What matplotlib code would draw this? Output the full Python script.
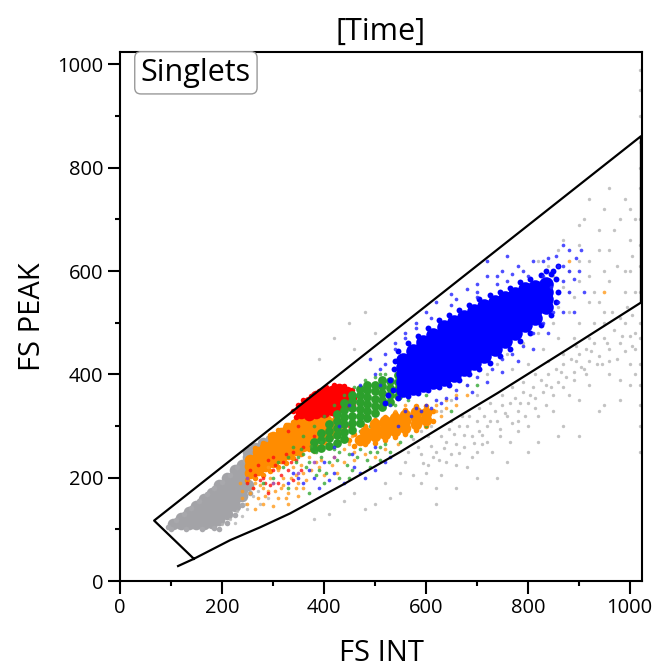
import matplotlib
matplotlib.use("Agg")
import matplotlib.pyplot as plt
from matplotlib.ticker import MultipleLocator

plt.rcParams['font.family'] = ['Open Sans', 'DejaVu Sans']

# ---- data (FS INT, FS PEAK) ----
gate_x = [114, 145, 216, 275, 334, 440, 550, 645, 741, 880, 1022, 1022, 67, 145]
gate_y = [29, 43, 79, 104, 131, 188, 250, 307, 364, 450, 539, 861, 117, 43]

gray_core = [
    (105, 110), (120, 110), (120, 122), (135, 110), (135, 122), (135, 134),
    (150, 110), (150, 122), (150, 134), (150, 146),
    (165, 110), (165, 122), (165, 134), (165, 146), (165, 158),
    (180, 112), (180, 124), (180, 136), (180, 148), (180, 160), (180, 170),
    (195, 118), (195, 130), (195, 142), (195, 154), (195, 166), (195, 178), (195, 186),
    (210, 130), (210, 142), (210, 154), (210, 166), (210, 178), (210, 190), (210, 200),
    (225, 146), (225, 158), (225, 170), (225, 182), (225, 194), (225, 206), (225, 214),
    (240, 165), (240, 177), (240, 189), (240, 201), (240, 213), (240, 225),
    (252, 185), (252, 240), (252, 250), (265, 258), (280, 268),
]
gray_mid = [
    (95, 105), (110, 118), (125, 130), (140, 142), (155, 155), (170, 168),
    (185, 180), (200, 192), (215, 206), (230, 220), (245, 235), (195, 100),
    (210, 112), (225, 128), (240, 148), (255, 170), (100, 100), (130, 100),
    (160, 100), (185, 103), (290, 276), (300, 282),
]

orange_core = [
    (255, 210), (255, 222), (255, 234),
    (270, 215), (270, 228), (270, 240), (270, 250),
    (285, 222), (285, 235), (285, 248), (285, 260),
    (300, 230), (300, 243), (300, 256), (300, 268), (300, 278),
    (315, 238), (315, 251), (315, 264), (315, 277), (315, 287),
    (330, 246), (330, 259), (330, 272), (330, 285), (330, 296),
    (345, 254), (345, 267), (345, 280), (345, 293), (345, 303),
    (360, 262), (360, 275), (360, 288), (360, 300), (360, 310),
    (375, 270), (375, 283), (375, 296), (375, 308),
    (390, 278), (390, 291), (390, 304), (390, 315),
    (405, 286), (405, 299), (405, 311), (420, 294), (420, 306),
]
orange_lobe = [
    (470, 272), (480, 275), (480, 288),
    (500, 280), (500, 292), (500, 303),
    (520, 285), (520, 297), (520, 309),
    (540, 291), (540, 303), (540, 315),
    (560, 297), (560, 309), (560, 321),
    (580, 303), (580, 316), (580, 328), (600, 312), (600, 325),
]
orange_mid = [
    (250, 195), (265, 200), (280, 205), (295, 212), (310, 220), (325, 228),
    (340, 238), (355, 246), (370, 255), (385, 262), (400, 270), (415, 280),
    (430, 288), (265, 258), (280, 268), (295, 282), (310, 292), (325, 302),
    (340, 308), (430, 300), (440, 295), (435, 312),
    (460, 262), (480, 265), (500, 268), (520, 272), (540, 278), (560, 285),
    (580, 292), (600, 300), (615, 310), (480, 300), (500, 312), (520, 318),
    (540, 325), (560, 332), (580, 338), (600, 338), (615, 330), (450, 272),
    (460, 285),
]

red_core = [
    (355, 325), (355, 335), (370, 322), (370, 334), (370, 346),
    (385, 325), (385, 337), (385, 349), (385, 358),
    (400, 328), (400, 340), (400, 352), (400, 364),
    (415, 332), (415, 344), (415, 356), (415, 367),
    (430, 336), (430, 348), (430, 360), (430, 372),
    (445, 342), (445, 354), (445, 365),
]
red_mid = [
    (345, 318), (350, 340), (360, 350), (375, 358), (390, 368), (405, 375),
    (420, 380), (440, 378), (455, 370), (460, 355), (455, 340), (340, 330),
]

green_core = [
    (380, 255), (380, 270), (395, 258), (395, 272), (395, 286),
    (410, 262), (410, 276), (410, 290), (410, 304),
    (425, 268), (425, 282), (425, 296), (425, 310), (425, 324),
    (440, 275), (440, 289), (440, 303), (440, 317), (440, 331), (440, 345),
    (455, 292), (455, 306), (455, 320), (455, 334), (455, 348), (455, 360),
    (470, 305), (470, 319), (470, 333), (470, 347), (470, 361), (470, 372),
    (485, 315), (485, 329), (485, 343), (485, 357), (485, 370), (485, 380),
    (500, 325), (500, 339), (500, 353), (500, 367), (500, 380),
    (515, 336), (515, 350), (515, 364), (515, 378), (515, 390),
    (530, 346), (530, 360), (530, 374), (530, 388),
    (545, 358), (545, 372), (545, 386), (545, 398),
]

blue_core = [
    (555, 370), (555, 385), (555, 400), (555, 415), (555, 428),
    (575, 374), (575, 389), (575, 404), (575, 419), (575, 434), (575, 445),
    (595, 380), (595, 395), (595, 410), (595, 425), (595, 440), (595, 455), (595, 462),
    (615, 386), (615, 401), (615, 416), (615, 431), (615, 446), (615, 461), (615, 476),
    (635, 392), (635, 407), (635, 422), (635, 437), (635, 452), (635, 467), (635, 482), (635, 492),
    (655, 398), (655, 413), (655, 428), (655, 443), (655, 458), (655, 473), (655, 488), (655, 502),
    (675, 410), (675, 425), (675, 440), (675, 455), (675, 470), (675, 485), (675, 500), (675, 512),
    (695, 422), (695, 437), (695, 452), (695, 467), (695, 482), (695, 497), (695, 512), (695, 522),
    (715, 436), (715, 451), (715, 466), (715, 481), (715, 496), (715, 511), (715, 526), (715, 532),
    (735, 450), (735, 465), (735, 480), (735, 495), (735, 510), (735, 525), (735, 540),
    (755, 465), (755, 480), (755, 495), (755, 510), (755, 525), (755, 540), (755, 548),
    (775, 480), (775, 495), (775, 510), (775, 525), (775, 540), (775, 556),
    (795, 495), (795, 510), (795, 525), (795, 540), (795, 555), (795, 565),
    (815, 510), (815, 525), (815, 540), (815, 555), (815, 570),
    (835, 530), (835, 545), (835, 560), (835, 575),
]
blue_mid = [
    (545, 445), (565, 460), (585, 475), (605, 490), (625, 505), (645, 515),
    (665, 525), (685, 535), (705, 545), (725, 553), (745, 560), (765, 568),
    (785, 578), (805, 585), (825, 592), (845, 595), (855, 585),
    (545, 355), (565, 358), (585, 363), (605, 370), (625, 375), (645, 380),
    (665, 390), (685, 400), (705, 410), (725, 422), (745, 435), (765, 450),
    (785, 465), (805, 480), (825, 495), (845, 515), (855, 540), (860, 560),
    (535, 370), (530, 390), (538, 410), (540, 425), (525, 360), (520, 345),
    (850, 600), (860, 610), (835, 600),
]

gray_sparse = [
    (200, 110), (215, 120), (230, 135), (245, 150), (260, 165), (225, 112),
    (240, 125), (250, 140), (270, 175), (275, 150), (290, 160), (500, 150),
    (550, 170), (560, 230), (590, 245), (610, 262), (620, 250), (640, 270),
    (655, 285), (660, 265), (680, 300), (690, 280), (700, 310), (705, 290),
    (715, 320), (720, 300), (735, 330), (740, 310), (750, 340), (760, 320),
    (765, 345), (775, 355), (780, 330), (790, 365), (800, 345), (810, 375),
    (815, 355), (825, 390), (830, 365), (840, 400), (845, 375), (855, 410),
    (860, 385), (870, 420), (875, 395), (885, 430), (890, 405), (900, 440),
    (905, 415), (915, 450), (920, 425), (930, 460), (940, 435), (950, 470),
    (960, 450), (970, 485), (980, 460), (990, 500), (1000, 475), (1005, 515),
    (880, 360), (920, 380), (960, 400), (1000, 420), (850, 330), (780, 290),
    (700, 250), (640, 230), (600, 210), (720, 270), (820, 320), (900, 350),
    (980, 390), (950, 340), (1010, 450), (870, 300), (760, 230), (680, 220),
    (900, 280), (1000, 380), (620, 180), (700, 200), (800, 250), (590, 290),
    (610, 300), (630, 280), (650, 310), (670, 320), (585, 260), (625, 235),
    (840, 610), (860, 640), (880, 600), (900, 650), (920, 620), (940, 680),
    (960, 640), (980, 700), (1000, 660), (870, 660), (910, 700), (950, 720),
    (990, 740), (900, 580), (950, 600), (1000, 600), (1010, 700), (870, 570),
    (930, 560), (850, 590), (820, 620), (960, 580), (990, 560), (1005, 630),
    (760, 440), (790, 460), (820, 480), (850, 500), (880, 520), (900, 500),
    (940, 540), (860, 470), (800, 420), (830, 450), (770, 410), (720, 400),
    (740, 420), (680, 380), (700, 360), (650, 350), (630, 330), (600, 320),
    (420, 470), (450, 500), (480, 520), (500, 480), (390, 430), (460, 450),
    (565, 250), (575, 275), (595, 228), (605, 280), (615, 240), (635, 258),
    (645, 295), (665, 248), (675, 282), (695, 268), (710, 282), (725, 310),
    (745, 295), (755, 325), (770, 305), (785, 345), (795, 320), (805, 360),
    (835, 380), (865, 405), (895, 425), (925, 445), (955, 460), (985, 475),
    (915, 400), (945, 420), (975, 430), (1005, 455), (890, 470), (930, 500),
    (965, 520), (995, 530), (860, 530), (890, 550), (920, 590), (975, 610),
    (575, 205), (590, 190), (605, 225), (630, 205), (650, 245), (660, 225),
    (675, 260), (690, 240), (710, 265), (730, 250), (745, 280), (765, 270),
    (780, 310), (800, 300), (815, 335), (835, 340), (850, 360), (870, 375),
    (890, 390), (910, 410), (935, 420), (960, 425), (990, 445), (1010, 480),
    (980, 510), (950, 500), (920, 470), (895, 455), (870, 440), (840, 425),
    (815, 400), (790, 385), (770, 375), (750, 360), (725, 345), (705, 335),
    (685, 320), (665, 300), (550, 210), (520, 190), (530, 160), (480, 140),
    (460, 170), (440, 155), (410, 130), (380, 120), (620, 150), (660, 180),
    (740, 200), (820, 270), (860, 280), (940, 330), (980, 350), (1010, 400),
    (1010, 560), (990, 600), (940, 640), (900, 690), (860, 610), (880, 560),
    (920, 540), (950, 520), (840, 560), (810, 550), (790, 520), (770, 500),
    (740, 480), (710, 460), (900, 620), (970, 680), (1000, 720), (960, 760),
    (920, 740),
    (1021, 250), (1021, 300), (1021, 340), (1021, 380), (1021, 420),
    (1021, 470), (1021, 500), (1021, 560), (1021, 610), (1021, 650),
    (1021, 700), (1021, 760), (1021, 800), (1021, 850), (1021, 900),
    (1021, 950), (1021, 990),
]

orange_sparse = [
    (260, 180), (270, 160), (280, 150), (290, 175), (300, 190), (310, 160),
    (320, 200), (330, 170), (340, 220), (350, 190), (360, 210), (370, 240),
    (380, 250), (390, 220), (410, 260), (420, 240), (440, 255), (460, 250),
    (240, 160), (250, 150), (265, 140), (300, 145), (330, 150), (350, 165),
    (620, 340), (640, 350), (660, 360), (700, 430), (750, 470), (800, 500),
    (820, 560), (560, 340), (540, 330), (630, 320), (660, 340), (430, 280),
    (410, 300), (290, 220), (310, 215), (450, 265), (455, 280), (620, 330),
    (880, 620), (950, 560), (275, 185), (315, 180), (345, 205), (395, 235),
    (640, 335), (680, 360),
    (255, 170), (265, 190), (285, 165), (295, 200), (305, 175), (320, 185),
    (335, 200), (345, 180), (355, 225), (365, 195), (375, 215), (385, 230),
    (400, 205), (415, 225), (425, 210), (440, 230), (460, 235), (480, 245),
    (500, 240), (520, 255), (545, 265), (240, 175), (235, 190), (280, 180),
    (325, 160), (360, 180),
]

red_sparse = [
    (260, 180), (280, 200), (300, 215), (320, 230), (340, 250), (270, 225),
    (290, 170), (310, 190), (330, 215), (360, 260), (380, 280), (420, 320),
    (460, 340), (350, 300), (330, 290), (250, 190), (450, 300), (480, 320),
    (300, 240), (340, 195), (265, 205), (285, 190),
    (275, 195), (295, 185), (315, 205), (335, 230), (355, 215), (305, 225),
    (325, 245), (345, 235), (255, 215), (290, 235),
]

green_sparse = [
    (350, 240), (370, 230), (390, 215), (410, 230), (430, 250), (450, 245),
    (470, 255), (490, 250), (510, 260), (380, 300), (360, 280), (340, 260),
    (400, 320), (420, 340), (440, 360), (460, 375), (480, 390), (500, 395),
    (520, 400), (560, 420), (580, 440), (600, 360), (620, 380), (640, 420),
    (320, 220), (300, 200), (280, 190), (400, 190), (450, 200), (530, 250),
    (550, 270), (570, 280), (490, 220), (600, 300), (700, 380), (650, 330),
    (330, 180), (370, 170), (385, 250), (395, 240), (540, 340), (565, 350),
    (360, 245), (375, 262), (420, 255), (465, 275), (510, 400), (560, 405),
    (345, 230), (365, 220), (385, 205), (405, 210), (425, 235), (445, 225),
    (465, 240), (485, 235), (505, 250), (520, 265), (540, 285), (310, 230),
    (330, 240), (355, 255), (395, 270), (470, 290), (490, 300), (430, 200),
    (455, 215), (510, 235), (560, 380), (575, 390), (590, 410), (610, 430),
    (620, 450),
]

blue_sparse = [
    (520, 420), (540, 450), (560, 480), (580, 500), (600, 520), (620, 540),
    (650, 555), (680, 565), (700, 575), (720, 590), (750, 600), (780, 610),
    (810, 620), (840, 625), (860, 610), (870, 580), (880, 560), (860, 540),
    (850, 520), (830, 500), (810, 480), (790, 455), (770, 440), (750, 430),
    (730, 410), (700, 395), (680, 380), (660, 370), (640, 355), (620, 350),
    (600, 340), (580, 335), (560, 330), (530, 340), (510, 380), (500, 400),
    (490, 430), (470, 380), (450, 340), (430, 300), (420, 260), (400, 230),
    (380, 200), (360, 190), (340, 210), (500, 260), (460, 220), (720, 620),
    (760, 630), (880, 640), (900, 600), (910, 560), (890, 520), (420, 210),
    (480, 200), (520, 230), (830, 590), (845, 570), (800, 590), (760, 580),
    (870, 610), (855, 630), (890, 585), (700, 560), (740, 590), (660, 545),
    (350, 200), (390, 180), (410, 195), (440, 190), (470, 210), (500, 215),
    (530, 240), (370, 215), (330, 190), (455, 245), (545, 300), (570, 320),
    (590, 330), (610, 335), (630, 345), (660, 355), (690, 365), (720, 385),
    (750, 405), (780, 425), (810, 450), (840, 480), (870, 520), (880, 600),
    (895, 625), (905, 640), (870, 650), (830, 620), (790, 600), (770, 595),
    (740, 575), (700, 550), (650, 535), (610, 510), (580, 490), (560, 470),
    (540, 460), (520, 440), (510, 410),
]

purple_sparse = [(250, 200), (300, 190), (420, 240), (350, 210), (380, 230)]

layers = [
    (gray_core, '#a3a3a7', 70, 1.0),
    (gray_mid, '#a8a8ac', 16, 1.0),
    (gray_sparse, '#b4b4b4', 6, 0.8),
    (orange_core, '#ff8c00', 70, 1.0),
    (orange_mid, '#ff8c00', 16, 1.0),
    (orange_sparse, '#ff9a1a', 7, 0.8),
    (red_core, '#ff0000', 70, 1.0),
    (red_mid, '#ff0000', 16, 1.0),
    (red_sparse, '#ff1010', 7, 0.8),
    (green_core, '#2ca02c', 40, 1.0),
    (green_sparse, '#33a833', 7, 0.8),
    (orange_lobe, '#ff8c00', 70, 1.0),
    (blue_core, '#0000ff', 110, 1.0),
    (blue_mid, '#0000ff', 18, 1.0),
    (blue_sparse, '#2222ff', 7, 0.8),
    (purple_sparse, '#9a40c8', 7, 0.8),
]

fig = plt.figure(figsize=(6.57, 6.71), dpi=100)
ax = fig.add_axes([0.1826, 0.1341, 0.7945, 0.7884])

for pts, color, size, alpha in layers:
    xs = [p[0] for p in pts]
    ys = [p[1] for p in pts]
    ax.scatter(xs, ys, s=size, c=color, alpha=alpha, linewidths=0, zorder=2)

# gate
ax.plot(gate_x, gate_y, color='black', lw=1.6, zorder=3, solid_joinstyle='round')

ax.set_xlim(0, 1024)
ax.set_ylim(0, 1024)
ax.xaxis.set_major_locator(MultipleLocator(200))
ax.yaxis.set_major_locator(MultipleLocator(200))
ax.xaxis.set_minor_locator(MultipleLocator(100))
ax.yaxis.set_minor_locator(MultipleLocator(100))
ax.tick_params(which='major', length=9, width=1.5, labelsize=14.5, pad=3)
ax.tick_params(which='minor', length=3.5, width=1.5)
for s in ax.spines.values():
    s.set_linewidth(1.5)

ax.set_xlabel('FS INT', fontsize=21)
ax.set_ylabel('FS PEAK', fontsize=21)
ax.xaxis.set_label_coords(0.5, -0.11)
ax.yaxis.set_label_coords(-0.14, 0.5)
ax.set_title('[Time]', fontsize=22, pad=9)

ax.text(0.04, 0.989, 'Singlets', transform=ax.transAxes, fontsize=22,
        ha='left', va='top', zorder=5,
        bbox=dict(boxstyle='round,pad=0.2', facecolor='white', edgecolor='#999999', lw=1))

fig.savefig('out.png', dpi=100)
